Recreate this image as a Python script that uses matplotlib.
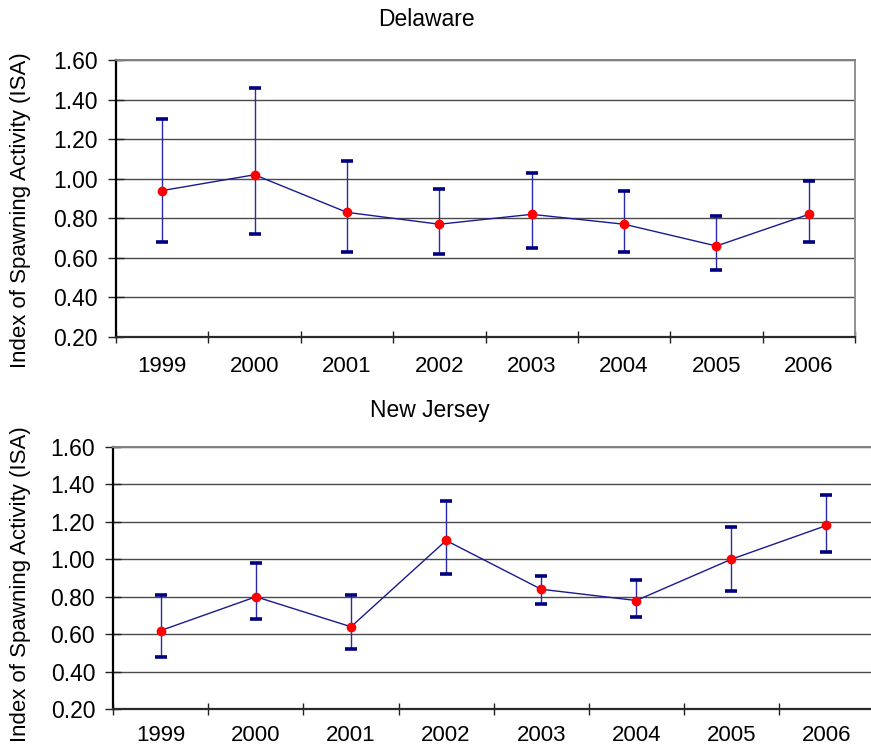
import matplotlib.pyplot as plt
import numpy as np

plt.rcParams.update({"font.family": ["Liberation Sans", "DejaVu Sans"]})

YEARS = ["1999", "2000", "2001", "2002", "2003", "2004", "2005", "2006"]

# Delaware
DE_ISA = [0.94, 1.02, 0.83, 0.77, 0.82, 0.77, 0.66, 0.82]
DE_UPPER = [1.30, 1.46, 1.09, 0.95, 1.03, 0.94, 0.81, 0.99]
DE_LOWER = [0.68, 0.72, 0.63, 0.62, 0.65, 0.63, 0.54, 0.68]

# New Jersey
NJ_ISA = [0.62, 0.80, 0.64, 1.10, 0.84, 0.78, 1.00, 1.18]
NJ_UPPER = [0.81, 0.98, 0.81, 1.31, 0.91, 0.89, 1.17, 1.34]
NJ_LOWER = [0.48, 0.68, 0.52, 0.92, 0.76, 0.69, 0.83, 1.04]

Y_TICKS = [0.20, 0.40, 0.60, 0.80, 1.00, 1.20, 1.40, 1.60]
YLABEL = "Index of Spawning Activity (ISA)"

W, H = 871, 749


def panel(fig, rect, isa, lower, upper, right_spine=True, xpad=14):
    ax = fig.add_axes(rect)
    x = np.arange(len(YEARS))
    isa = np.array(isa)
    yerr = [isa - np.array(lower), np.array(upper) - isa]

    ax.set_ylim(0.2, 1.6)
    ax.set_xlim(-0.5, len(YEARS) - 0.5)
    ax.set_yticks(Y_TICKS)
    ax.set_yticklabels([f"{v:.2f}" for v in Y_TICKS])
    ax.yaxis.grid(True, color="#4a4a4a", lw=1.0)
    ax.set_axisbelow(True)

    # category boundaries carry the tick marks, labels sit at centres
    ax.set_xticks(np.arange(-0.5, len(YEARS), 1.0))
    ax.set_xticklabels([])
    ax.set_xticks(x, minor=True)
    ax.set_xticklabels(YEARS, minor=True)
    ax.tick_params(axis="x", which="major", direction="inout", length=8,
                   width=1, color="#222222")
    ax.tick_params(axis="x", which="minor", length=0, pad=xpad, labelsize=16)
    ax.tick_params(axis="y", direction="inout", length=12, width=1,
                   color="#222222", pad=7, labelsize=16.5)

    ax.errorbar(x, isa, yerr=yerr, fmt="none", ecolor="#2a2aa8", elinewidth=1,
                capsize=0, zorder=3)
    ax.errorbar(x, isa, yerr=yerr, fmt="none", ecolor="#000080", elinewidth=0,
                capsize=4, capthick=2.6, zorder=3)
    ax.plot(x, isa, color="#1a1a90", lw=1, zorder=4)
    ax.plot(x, isa, "o", color="#ff0000", ms=6, mec="#ff0000", zorder=5)

    ax.spines["left"].set_color("black")
    ax.spines["left"].set_linewidth(1.6)
    ax.spines["bottom"].set_color("#2a2a2a")
    ax.spines["bottom"].set_linewidth(1.6)
    ax.spines["top"].set_color("#808080")
    ax.spines["top"].set_linewidth(1.4)
    ax.spines["right"].set_color("#909090")
    ax.spines["right"].set_linewidth(1.4)
    ax.spines["right"].set_visible(right_spine)
    return ax


def frac_rect(x0, y0, x1, y1):
    return [x0 / W, 1 - y1 / H, (x1 - x0) / W, (y1 - y0) / H]


fig = plt.figure(figsize=(W / 100, H / 100), dpi=100)

panel(fig, frac_rect(116, 60, 855, 337), DE_ISA, DE_LOWER, DE_UPPER)
panel(fig, frac_rect(113.3, 446.7, 874, 709.3), NJ_ISA, NJ_LOWER, NJ_UPPER,
      right_spine=False, xpad=11)

fig.text(426 / W, 1 - 20 / H, "Delaware", ha="center", va="center", fontsize=16.5)
fig.text(430 / W, 1 - 411 / H, "New Jersey", ha="center", va="center",
         fontsize=16.5)
fig.text(21 / W, 1 - 210 / H, YLABEL, rotation=90, ha="center", va="center",
         fontsize=16)
fig.text(21 / W, 1 - 584 / H, YLABEL, rotation=90, ha="center", va="center",
         fontsize=16)

fig.savefig("out.png", dpi=100)
